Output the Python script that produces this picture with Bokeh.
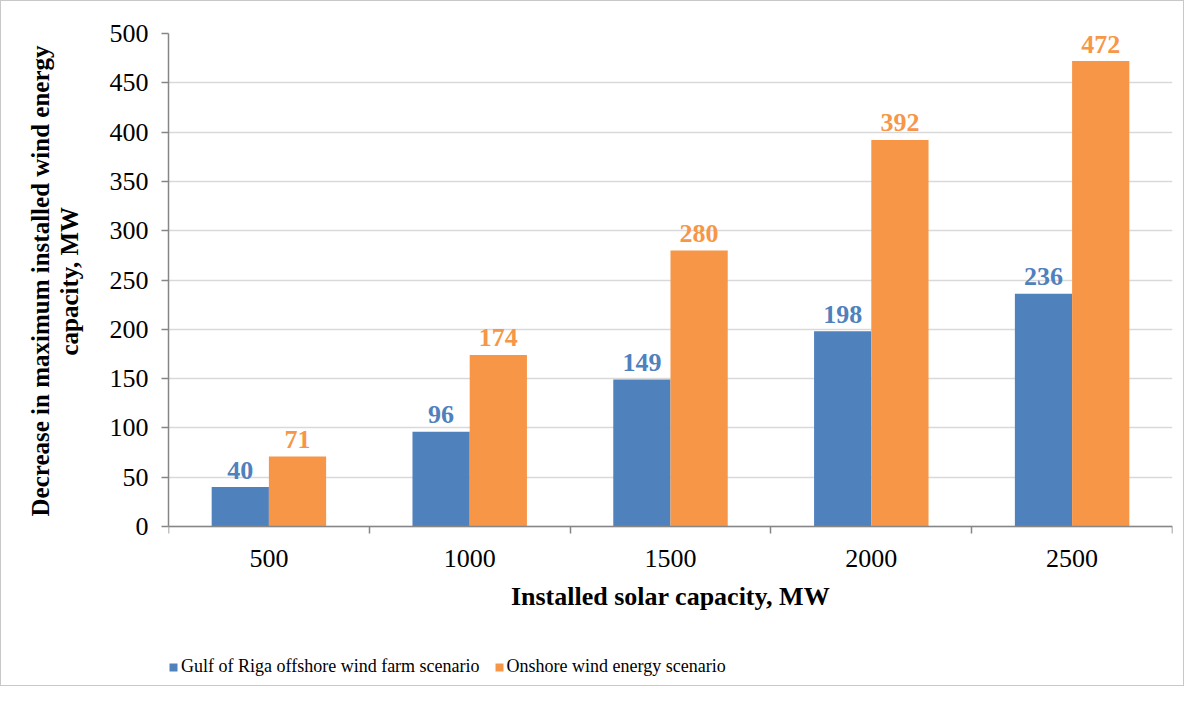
from bokeh.plotting import figure
from bokeh.models import ColumnDataSource, FixedTicker, Legend, LegendItem, Range1d, Title
from bokeh.core.properties import value
from bokeh.transform import dodge
from bokeh.embed import file_html
from bokeh.resources import INLINE

categories = ["500", "1000", "1500", "2000", "2500"]
gulf_values = [40, 96, 149, 198, 236]
onshore_values = [71, 174, 280, 392, 472]
series_names = ["Gulf of Riga offshore wind farm scenario", "Onshore wind energy scenario"]
y_ticks = [0, 50, 100, 150, 200, 250, 300, 350, 400, 450, 500]
y_title_lines = ["Decrease in maximum installed wind energy", "capacity, MW"]
x_title = "Installed solar capacity, MW"

BLUE = "#4f81bd"
ORANGE = "#f79646"
FONT = "Liberation Serif"
AXIS = "#868686"

# layout: frame top at 32px, value 0 at 525px, frame bottom at 685px
Y_MAX = 500
frame_top, zero_px, frame_bottom = 32, 525, 685
y_start = -(frame_bottom - zero_px) * Y_MAX / (zero_px - frame_top)

centers = [i + 0.5 for i in range(len(categories))]
src = ColumnDataSource(dict(x=centers, gulf=gulf_values, onshore=onshore_values,
                            gulf_t=[str(v) for v in gulf_values],
                            onshore_t=[str(v) for v in onshore_values]))

p = figure(width=1184, height=686, output_backend="svg", toolbar_location=None,
           x_range=Range1d(0, len(categories)), y_range=Range1d(y_start, Y_MAX),
           min_border_left=167, min_border_right=13, min_border_top=frame_top,
           min_border_bottom=686 - frame_bottom)
p.outline_line_color = None
p.styles = {"border": "1px solid #c8c8c8", "box-sizing": "border-box"}

bw = 0.285
r1 = p.vbar(x=dodge("x", -bw / 2, range=p.x_range), top="gulf", width=bw, source=src,
            fill_color=BLUE, line_color=None)
r2 = p.vbar(x=dodge("x", bw / 2, range=p.x_range), top="onshore", width=bw, source=src,
            fill_color=ORANGE, line_color=None)

p.text(x=dodge("x", -bw / 2, range=p.x_range), y="gulf", text="gulf_t", source=src,
       text_font=value(FONT), text_font_style="bold", text_font_size="26px",
       text_color=BLUE, text_align="center", text_baseline="alphabetic", y_offset=-17)
p.text(x=dodge("x", bw / 2, range=p.x_range), y="onshore", text="onshore_t", source=src,
       text_font=value(FONT), text_font_style="bold", text_font_size="26px",
       text_color=ORANGE, text_align="center", text_baseline="alphabetic", y_offset=-17)

# grid
p.xgrid.grid_line_color = None
p.ygrid.grid_line_color = "#d9d9d9"
p.ygrid.grid_line_width = 1.3
p.ygrid.ticker = FixedTicker(ticks=y_ticks)

# y axis
ya = p.yaxis[0]
ya.ticker = FixedTicker(ticks=y_ticks)
ya.bounds = (0, Y_MAX)
ya.axis_line_color = AXIS
ya.axis_line_width = 1.5
ya.major_tick_line_color = AXIS
ya.major_tick_line_width = 1.5
ya.major_tick_out = 7
ya.major_tick_in = 0
ya.minor_tick_line_color = None
ya.major_label_text_font = FONT
ya.major_label_text_font_size = "26px"
ya.major_label_text_color = "#000000"
ya.major_label_standoff = 13

# y axis title: two lines, each centred on the 0..500 part of the frame
p.add_layout(Title(text=" ", text_font_size="10px", standoff=11), "left")  # spacer
for line, off in [(y_title_lines[1], 331), (y_title_lines[0], 170)]:
    t = Title(text=line, align="left", offset=off, standoff=0,
              text_font=FONT, text_font_style="bold", text_font_size="25px",
              text_color="#000000")
    p.add_layout(t, "left")

# x axis, pinned at value 0
xa = p.xaxis[0]
xa.fixed_location = 0
xa.ticker = FixedTicker(ticks=centers, minor_ticks=list(range(len(categories) + 1)))
xa.major_label_overrides = {c: lab for c, lab in zip(centers, categories)}
xa.axis_line_color = AXIS
xa.axis_line_width = 1.5
xa.major_tick_line_color = None
xa.major_tick_out = 0
xa.major_tick_in = 0
xa.minor_tick_line_color = AXIS
xa.minor_tick_line_width = 1.5
xa.minor_tick_out = 7
xa.minor_tick_in = 0
xa.major_label_text_font = FONT
xa.major_label_text_font_size = "26px"
xa.major_label_text_color = "#000000"
xa.major_label_standoff = 16
xa.axis_label = x_title
xa.axis_label_text_font = FONT
xa.axis_label_text_font_style = "bold"
xa.axis_label_text_font_size = "26px"
xa.axis_label_text_color = "#000000"
xa.axis_label_standoff = 12

legend = Legend(items=[LegendItem(label=series_names[0], renderers=[r1]),
                       LegendItem(label=series_names[1], renderers=[r2])],
                location=(0, 9), orientation="horizontal",
                label_text_font=FONT, label_text_font_size="18px", label_text_color="#000000",
                glyph_width=10, glyph_height=10, label_standoff=3, spacing=14,
                padding=0, margin=0, border_line_color=None, background_fill_alpha=0)
p.add_layout(legend, "center")

open("out.html", "w").write(file_html(p, INLINE))
